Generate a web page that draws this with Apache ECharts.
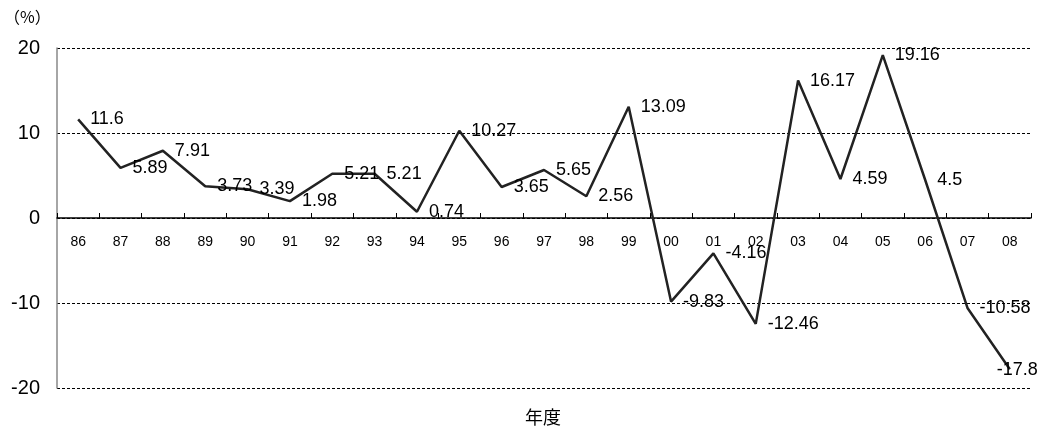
<!DOCTYPE html>
<html><head><meta charset="utf-8">
<script src="https://cdn.jsdelivr.net/npm/echarts@6/dist/echarts.min.js"></script>
<style>html,body{margin:0;padding:0;background:#fff}#c{width:1046px;height:434px}</style>
</head><body><div id="c"></div>
<script>
const categories = ['86','87','88','89','90','91','92','93','94','95','96','97','98','99','00','01','02','03','04','05','06','07','08'];
const values = [11.6, 5.89, 7.91, 3.73, 3.39, 1.98, 5.21, 5.21, 0.74, 10.27, 3.65, 5.65, 2.56, 13.09, -9.83, -4.16, -12.46, 16.17, 4.59, 19.16, 4.5, -10.58, -17.8];
const yTicks = [-20, -10, 0, 10, 20];
const unitLabel = '（%）';
const xAxisName = '年度';

const FONT = '"Liberation Sans", Arial, sans-serif';
const GRID = { left: 57, right: 15, top: 48, bottom: 46 };
const plotH = 434 - GRID.top - GRID.bottom;
const yMin = yTicks[0], yMax = yTicks[yTicks.length - 1];
const zeroOffset = -plotH * (0 - yMin) / (yMax - yMin);
const lastIdx = values.length - 1;

const chart = echarts.init(document.getElementById('c'));
chart.setOption({
  animation: false,
  grid: Object.assign({ containLabel: false }, GRID),
  xAxis: {
    type: 'category',
    data: categories,
    boundaryGap: true,
    position: 'bottom',
    offset: zeroOffset,
    axisLine: { onZero: false, lineStyle: { color: '#000', width: 1.5 } },
    axisTick: { show: true, inside: true, length: 5, lineStyle: { color: '#000', width: 1 } },
    axisLabel: { margin: 17, fontSize: 14, color: '#000', fontFamily: FONT },
    splitLine: { show: false }
  },
  yAxis: {
    type: 'value',
    min: yMin, max: yMax, interval: 10,
    axisLine: { show: true, onZero: false, lineStyle: { color: '#888', width: 1.5 } },
    axisTick: { show: false },
    axisLabel: { margin: 17, fontSize: 20, color: '#000', fontFamily: FONT },
    splitLine: { show: true, lineStyle: { color: '#000', width: 1, type: [3, 2] } }
  },
  series: [{
    type: 'line',
    data: values,
    symbol: 'circle',
    symbolSize: 0,
    showSymbol: true,
    itemStyle: { color: '#222' },
    lineStyle: { color: '#222', width: 2.5 },
    label: {
      show: true, position: 'right', distance: 12, offset: [0, 1],
      fontSize: 18, color: '#000', fontFamily: FONT
    },
    labelLayout: function (p) {
      return p.dataIndex === lastIdx ? { dx: -25, dy: 1, hideOverlap: false } : { hideOverlap: false };
    }
  }],
  graphic: [
    { type: 'text', left: 4, top: 9, style: { text: unitLabel, fill: '#000', font: '16px "Noto Sans CJK JP"' } },
    { type: 'text', left: 525, top: 408, style: { text: xAxisName, fill: '#000', font: '18px "Noto Sans CJK JP"' } }
  ]
});
</script></body></html>
